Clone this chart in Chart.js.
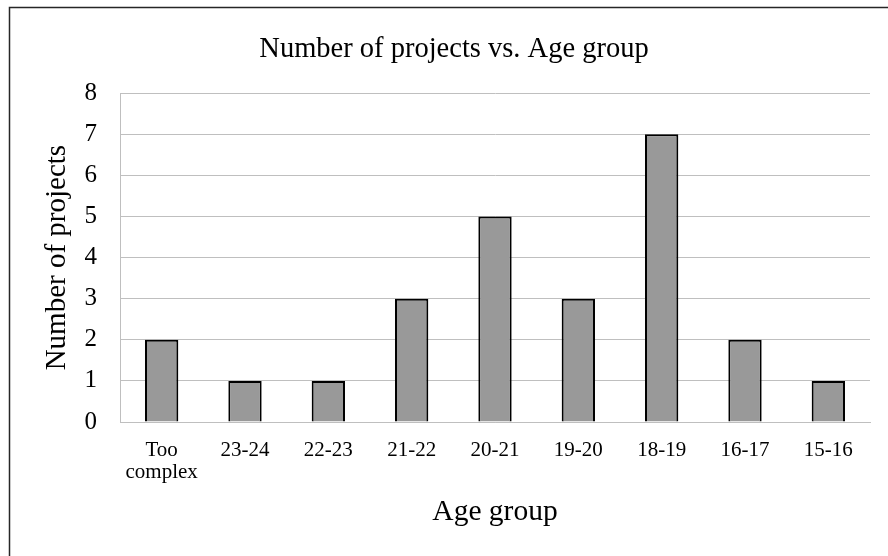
<!DOCTYPE html>
<html>
<head>
<meta charset="utf-8">
<title>Number of projects vs. Age group</title>
<script src="https://cdn.jsdelivr.net/npm/chart.js@4/dist/chart.umd.min.js"></script>
<style>
  html, body { margin: 0; padding: 0; background: #ffffff; }
  #wrap { width: 888px; height: 556px; position: relative; }
</style>
</head>
<body>
<div id="wrap"><canvas id="chart" width="888" height="556"></canvas></div>
<script>
// Age groups along the horizontal axis
const categories = [["Too", "complex"], "23-24", "22-23", "21-22", "20-21", "19-20", "18-19", "16-17", "15-16"];
// Number of projects in each age group
const projectCounts = [2, 1, 1, 3, 5, 3, 7, 2, 1];
// Vertical axis ticks
const yTicks = [0, 1, 2, 3, 4, 5, 6, 7, 8];

const SERIF = "'Liberation Serif', 'Times New Roman', serif";

// Frame line along the top and left edges of the chart box
const framePlugin = {
  id: 'frame',
  beforeDraw(chart) {
    const ctx = chart.ctx;
    ctx.save();
    ctx.fillStyle = '#ffffff';
    ctx.fillRect(0, 0, chart.width, chart.height);
    ctx.strokeStyle = '#262626';
    ctx.lineWidth = 1.5;
    ctx.beginPath();
    ctx.moveTo(9.5, chart.height);
    ctx.lineTo(9.5, 7.5);
    ctx.lineTo(chart.width, 7.5);
    ctx.stroke();
    ctx.restore();
  }
};

new Chart(document.getElementById('chart'), {
  type: 'bar',
  data: {
    labels: categories,
    datasets: [{
      data: projectCounts,
      backgroundColor: '#999999',
      borderColor: '#000000',
      borderWidth: 2,
      categoryPercentage: 1,
      barPercentage: 0.4
    }]
  },
  options: {
    responsive: false,
    animation: false,
    layout: { padding: { left: 20, right: 0, top: 0, bottom: 0 } },
    plugins: {
      legend: { display: false },
      tooltip: { enabled: false },
      title: {
        display: true,
        text: 'Number of projects vs. Age group',
        color: '#000000',
        font: { family: SERIF, size: 28.5, weight: 'normal', lineHeight: 1.2 },
        padding: { top: 32, bottom: 27 }
      }
    },
    scales: {
      x: {
        grid: { display: false, drawTicks: false },
        border: { display: true, color: '#bfbfbf', width: 1 },
        ticks: {
          color: '#000000',
          padding: 17,
          maxRotation: 0,
          autoSkip: false,
          font: { family: SERIF, size: 21, lineHeight: 1.05 }
        },
        title: {
          display: true,
          text: 'Age group',
          color: '#000000',
          font: { family: SERIF, size: 29.5, lineHeight: 1.2 },
          padding: { top: 0, bottom: 26 }
        },
        afterFit(scale) { scale.height = 134; }
      },
      y: {
        min: 0,
        max: 8,
        afterBuildTicks(scale) { scale.ticks = yTicks.map(v => ({ value: v })); },
        grid: { color: '#bfbfbf', lineWidth: 1, drawTicks: false },
        border: { display: true, color: '#bfbfbf', width: 1 },
        ticks: {
          color: '#000000',
          padding: 23,
          font: { family: SERIF, size: 25 }
        },
        title: {
          display: true,
          text: 'Number of projects',
          color: '#000000',
          font: { family: SERIF, size: 29, lineHeight: 1.2 },
          padding: { top: 20, bottom: 0 }
        },
        afterFit(scale) { scale.width = 100; }
      },
      // empty margin on the right side of the plot
      margin: {
        type: 'linear',
        position: 'right',
        display: true,
        grid: { display: false, drawTicks: false },
        border: { display: false },
        ticks: { display: false },
        afterFit(scale) { scale.width = 18; }
      }
    }
  },
  plugins: [framePlugin]
});
</script>
</body>
</html>
